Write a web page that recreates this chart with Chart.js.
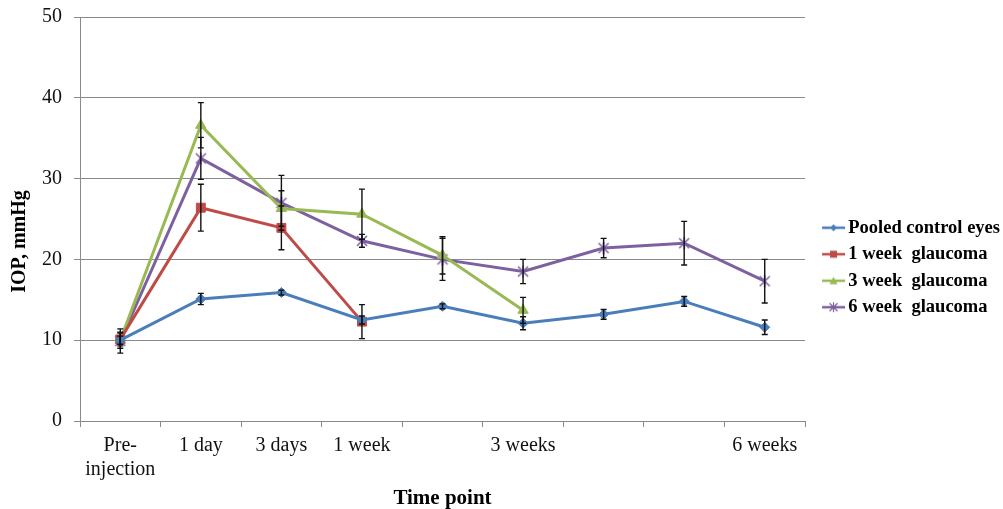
<!DOCTYPE html>
<html>
<head>
<meta charset="utf-8">
<script src="https://cdn.jsdelivr.net/npm/chart.js@4/dist/chart.umd.min.js"></script>
<style>
  body { margin: 0; background: #fff; }
  #wrap { width: 1003px; height: 509px; }
</style>
</head>
<body>
<div id="wrap"><canvas id="iopChart"></canvas></div>
<script>
// Time points (some columns carry no label in the original)
const timePoints = [['Pre-', 'injection'], '1 day', '3 days', '1 week', '', '3 weeks', '', '', '6 weeks'];

// Mean IOP, mmHg
const pooledControl = [10.0, 15.1, 15.9, 12.5, 14.2, 12.1, 13.2, 14.8, 11.6];
const oneWeekGlaucoma = [10.1, 26.4, 23.9, 12.3, null, null, null, null, null];
const threeWeekGlaucoma = [10.0, 36.6, 26.3, 25.6, 20.5, 13.7, null, null, null];
const sixWeekGlaucoma = [9.9, 32.5, 27.0, 22.3, 20.0, 18.5, 21.4, 22.0, 17.3];

// Error bars (+/-)
const pooledControlErr = [0.5, 0.7, 0.3, 0.5, 0.3, 0.8, 0.6, 0.6, 0.9];
const oneWeekErr = [0.8, 2.9, 2.7, 2.1, null, null, null, null, null];
const threeWeekErr = [1.0, 2.8, 2.2, 3.1, 2.3, 1.6, null, null, null];
const sixWeekErr = [1.5, 2.6, 3.4, 0.8, 2.6, 1.5, 1.2, 2.7, 2.7];

const yTicks = [0, 10, 20, 30, 40, 50];

const serif = "'Liberation Serif', 'Times New Roman', serif";

// Excel style "star" marker: an X with a vertical stroke
function starMarker(color) {
    const c = document.createElement('canvas');
    c.width = 14; c.height = 14;
    const g = c.getContext('2d');
    g.strokeStyle = color; g.lineWidth = 1.5;
    g.beginPath();
    g.moveTo(2, 2); g.lineTo(12, 12); g.moveTo(12, 2); g.lineTo(2, 12);
    g.moveTo(7, 1); g.lineTo(7, 13);
    g.stroke();
    return c;
}

// legend sample: short line with the marker in the middle
// (drawn off-centre in a wider canvas so it sits close to the text)
function legendIcon(color, style) {
    const c = document.createElement('canvas');
    c.width = 40; c.height = 12;
    const g = c.getContext('2d');
    const m = 27.5;
    g.strokeStyle = color; g.fillStyle = color; g.lineWidth = 2.5;
    g.beginPath(); g.moveTo(16, 6); g.lineTo(39, 6); g.stroke();
    g.lineWidth = 1.2;
    g.beginPath();
    if (style === 'diamond') {
        g.moveTo(m, 2.5); g.lineTo(m + 3.5, 6); g.lineTo(m, 9.5); g.lineTo(m - 3.5, 6); g.closePath(); g.fill();
    } else if (style === 'square') {
        g.fillRect(m - 3.5, 2.5, 7, 7);
    } else if (style === 'triangle') {
        g.moveTo(m, 2); g.lineTo(m + 4, 9.5); g.lineTo(m - 4, 9.5); g.closePath(); g.fill();
    } else {
        g.moveTo(m - 4, 2); g.lineTo(m + 4, 10); g.moveTo(m + 4, 2); g.lineTo(m - 4, 10);
        g.moveTo(m, 1); g.lineTo(m, 11); g.stroke();
    }
    return c;
}

const errorSets = [pooledControlErr, oneWeekErr, threeWeekErr, sixWeekErr];

const errorBars = {
    id: 'errorBars',
    afterDatasetsDraw(chart) {
        const ctx = chart.ctx;
        const xs = chart.scales.x, ys = chart.scales.y;
        ctx.save();
        ctx.strokeStyle = '#111';
        ctx.lineWidth = 1.4;
        chart.data.datasets.forEach((ds, di) => {
            const errs = errorSets[di];
            ds.data.forEach((v, i) => {
                if (v == null || errs[i] == null) return;
                const px = xs.getPixelForValue(i);
                const top = ys.getPixelForValue(v + errs[i]);
                const bot = ys.getPixelForValue(v - errs[i]);
                ctx.beginPath();
                ctx.moveTo(px, top); ctx.lineTo(px, bot);
                ctx.moveTo(px - 3, top); ctx.lineTo(px + 3, top);
                ctx.moveTo(px - 3, bot); ctx.lineTo(px + 3, bot);
                ctx.stroke();
            });
        });
        ctx.restore();
    }
};

function series(label, data, color, pointStyle, radius, icon) {
    return {
        label: label,
        data: data,
        borderColor: color,
        backgroundColor: color,
        borderWidth: 3,
        pointStyle: pointStyle,
        pointRadius: radius,
        pointBorderWidth: 1,
        pointBackgroundColor: color,
        pointBorderColor: color,
        tension: 0,
        spanGaps: false,
        legendIcon: icon
    };
}

const ctx = document.getElementById('iopChart');
const iopChart = new Chart(ctx, {
    type: 'line',
    data: {
        labels: timePoints,
        datasets: [
            series('Pooled control eyes', pooledControl, '#4A7EBB', 'rectRot', 5, legendIcon('#4A7EBB', 'diamond')),
            series('1 week  glaucoma', oneWeekGlaucoma, '#BE4B48', 'rect', 6.3, legendIcon('#BE4B48', 'square')),
            series('3 week  glaucoma', threeWeekGlaucoma, '#98B954', 'triangle', 6, legendIcon('#98B954', 'triangle')),
            series('6 week  glaucoma', sixWeekGlaucoma, '#7D60A0', starMarker('#7D60A0'), 6, legendIcon('#7D60A0', 'star'))
        ]
    },
    options: {
        responsive: true,
        maintainAspectRatio: false,
        animation: false,
        layout: { padding: { top: 6, left: 0, right: -7, bottom: 0 } },
        plugins: {
            legend: {
                position: 'right',
                title: {
                    display: true,
                    text: ' ',
                    font: { size: 10 },
                    padding: 4
                },
                labels: {
                    usePointStyle: true,
                    pointStyleWidth: 26,
                    padding: 8,
                    color: '#000',
                    font: { family: serif, size: 18.5, weight: 'bold' },
                    generateLabels(chart) {
                        return chart.data.datasets.map((ds, i) => ({
                            text: ds.label,
                            pointStyle: ds.legendIcon,
                            fillStyle: ds.borderColor,
                            strokeStyle: ds.borderColor,
                            lineWidth: 0,
                            fontColor: '#000',
                            hidden: false,
                            datasetIndex: i
                        }));
                    }
                }
            },
            tooltip: { enabled: false }
        },
        scales: {
            x: {
                offset: true,
                grid: {
                    display: true,
                    offset: true,
                    drawOnChartArea: false,
                    drawTicks: true,
                    tickLength: 6,
                    color: '#8a8a8a'
                },
                border: { color: '#8a8a8a', width: 1 },
                ticks: {
                    autoSkip: false,
                    maxRotation: 0,
                    color: '#111',
                    padding: 7,
                    font: { family: serif, size: 20 }
                },
                title: {
                    display: true,
                    text: 'Time point',
                    color: '#000',
                    font: { family: serif, size: 21, weight: 'bold', lineHeight: 1 },
                    padding: { top: -1, bottom: 0 }
                }
            },
            y: {
                min: yTicks[0],
                max: yTicks[yTicks.length - 1],
                afterBuildTicks(axis) {
                    axis.ticks = yTicks.map(v => ({ value: v }));
                },
                grid: {
                    color: '#8a8a8a',
                    lineWidth: 1,
                    tickLength: 6
                },
                border: { color: '#8a8a8a', width: 1 },
                ticks: {
                    color: '#111',
                    padding: 12,
                    font: { family: serif, size: 20, lineHeight: 0.5 }
                },
                title: {
                    display: true,
                    text: 'IOP, mmHg         ',
                    color: '#000',
                    font: { family: serif, size: 20, weight: 'bold' },
                    padding: { top: 8, bottom: -2 }
                }
            }
        }
    },
    plugins: [errorBars]
});
</script>
</body>
</html>
